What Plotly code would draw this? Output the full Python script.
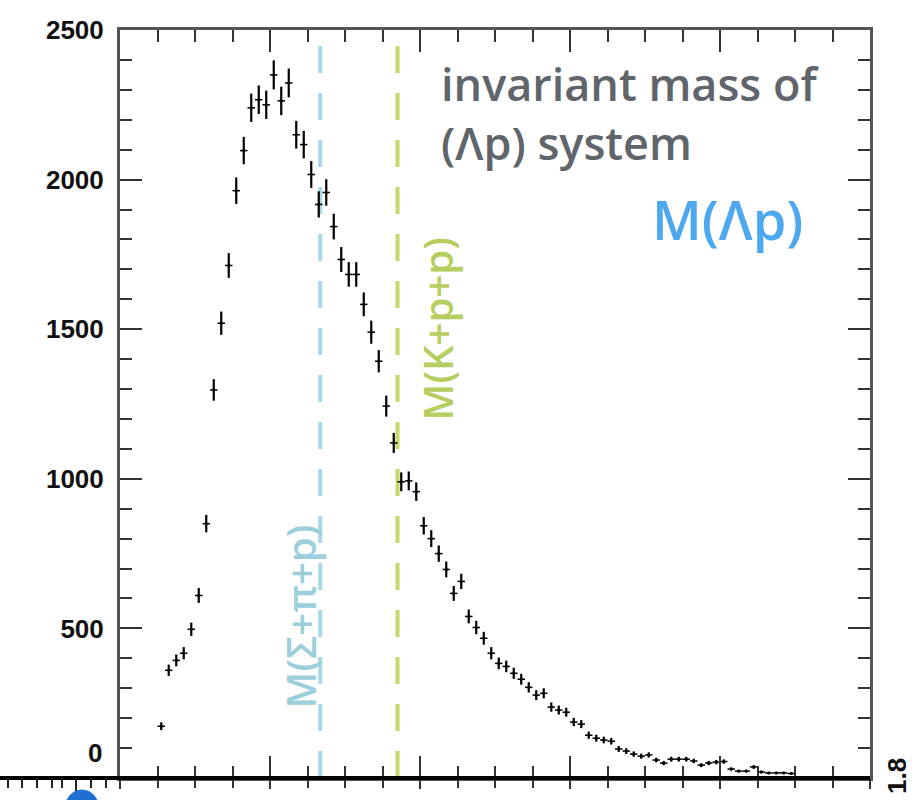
import plotly.graph_objects as go

# ---- data ----
mass_bins = [2.055, 2.065, 2.075, 2.085, 2.095, 2.105, 2.115, 2.125, 2.135, 2.145,
             2.155, 2.165, 2.175, 2.185, 2.195, 2.205, 2.215, 2.225, 2.235, 2.245,
             2.255, 2.265, 2.275, 2.285, 2.295, 2.305, 2.315, 2.325, 2.335, 2.345,
             2.355, 2.365, 2.375, 2.385, 2.395, 2.405, 2.415, 2.425, 2.435, 2.445,
             2.455, 2.465, 2.475, 2.485, 2.495, 2.505, 2.515, 2.525, 2.535, 2.545,
             2.555, 2.565, 2.575, 2.585, 2.595, 2.605, 2.615, 2.625, 2.635, 2.645,
             2.655, 2.665, 2.675, 2.685, 2.695, 2.705, 2.715, 2.725, 2.735, 2.745,
             2.755, 2.765, 2.775, 2.785, 2.795, 2.805, 2.815, 2.825, 2.835, 2.845,
             2.855, 2.865, 2.875, 2.885, 2.895]
counts = [173, 360, 393, 417, 497, 610, 850, 1297, 1520, 1713,
          1963, 2097, 2240, 2267, 2250, 2350, 2263, 2323, 2150, 2117,
          2017, 1917, 1957, 1843, 1733, 1683, 1683, 1583, 1490, 1393,
          1243, 1120, 990, 993, 957, 843, 800, 750, 697, 617,
          657, 540, 503, 467, 417, 383, 373, 350, 330, 303,
          277, 283, 237, 227, 220, 187, 180, 143, 133, 127,
          123, 97, 90, 80, 73, 77, 60, 50, 63, 63,
          63, 57, 43, 50, 53, 55, 30, 23, 23, 37,
          20, 17, 17, 17, 15]
bin_half_width = 0.005

threshold_sigma_pi_p = 2.267   # M(Sigma+pi+p)
threshold_k_p_p = 2.370        # M(K+p+p)
threshold_line_top = 2450

y_tick_vals = [500, 1000, 1500, 2000, 2500]
y_tick_text = ["500", "1000", "1500", "2000", "2500"]

BLUE_LINE = "#a6d8e6"
BLUE_TEXT = "#9ccfda"
GREEN_LINE = "#c6d86c"
GREEN_TEXT = "#b6cd5f"
GRAY_TEXT = "#60656c"
TITLE_BLUE = "#4ea8ef"

fig = go.Figure()

# threshold lines
fig.add_trace(go.Scatter(x=[threshold_sigma_pi_p, threshold_sigma_pi_p], y=[0, threshold_line_top],
                         mode="lines", line=dict(color=BLUE_LINE, width=4, dash="27px,20px"),
                         hoverinfo="skip"))
fig.add_trace(go.Scatter(x=[threshold_k_p_p, threshold_k_p_p], y=[0, threshold_line_top],
                         mode="lines", line=dict(color=GREEN_LINE, width=4, dash="27px,20px"),
                         hoverinfo="skip"))

# histogram points with errors
fig.add_trace(go.Scatter(
    x=mass_bins, y=counts, mode="markers",
    marker=dict(color="black", size=3),
    error_y=dict(type="sqrt", color="black", thickness=2.2, width=0),
    error_x=dict(type="constant", value=bin_half_width, color="black", thickness=1.5, width=0),
))

# dummy trace for overlay axis (outside ticks at bottom)
fig.add_trace(go.Scatter(x=[2.0], y=[0], xaxis="x2", mode="markers",
                         marker=dict(size=1, opacity=0), hoverinfo="skip"))

tick_col = "#333333"
fig.update_layout(
    width=916, height=800,
    margin=dict(l=120, r=46, t=30, b=20),
    plot_bgcolor="white", paper_bgcolor="white",
    showlegend=False,
    xaxis=dict(range=[2.0, 3.0], showgrid=False, zeroline=False,
               showticklabels=False, ticks="inside", tick0=2.0, dtick=0.2,
               ticklen=22, tickwidth=2, tickcolor=tick_col,
               minor=dict(dtick=0.05, ticks="inside", ticklen=12, tickwidth=2, tickcolor=tick_col, showgrid=False),
               showline=True, linecolor="#555555", linewidth=3, mirror="ticks"),
    xaxis2=dict(range=[2.0, 3.0], overlaying="x", anchor="y", side="bottom",
                showgrid=False, zeroline=False, showline=False, showticklabels=False,
                ticks="outside", tick0=2.0, dtick=0.2, ticklen=10, tickwidth=2, tickcolor=tick_col,
                minor=dict(dtick=0.05, ticks="outside", ticklen=9, tickwidth=2, tickcolor=tick_col, showgrid=False)),
    yaxis=dict(range=[0, 2500], showgrid=False, zeroline=False,
               tickvals=y_tick_vals, ticktext=y_tick_text,
               ticks="inside", ticklen=22, tickwidth=2, tickcolor=tick_col,
               minor=dict(dtick=100, ticks="inside", ticklen=12, tickwidth=2, tickcolor=tick_col, showgrid=False),
               showline=True, linecolor="#555555", linewidth=3, mirror="ticks",
               ticklabelstandoff=8,
               tickfont=dict(family="Liberation Sans", size=26, color="#111111", weight="bold")),
)

# thick black bottom axis line extending to the left edge
fig.add_shape(type="line", xref="paper", yref="paper", x0=-0.16, x1=1.0, y0=0, y1=0,
              line=dict(color="black", width=4))
# neighbouring panel's ticks at bottom-left
for px, ln in [(8, 10), (22, 10), (37, 10), (52, 10), (62, 10), (76, 20), (91, 10), (106, 10)]:
    fig.add_shape(type="line", xref="paper", yref="paper",
                  x0=(px - 120) / 750, x1=(px - 120) / 750,
                  y0=0, y1=-ln / 750, line=dict(color="#222222", width=2))
fig.add_shape(type="circle", xref="paper", yref="paper",
              x0=(66 - 120) / 750, x1=(98 - 120) / 750, y0=-12 / 750, y1=-44 / 750,
              fillcolor="#1d6fd0", line=dict(color="#1d6fd0", width=1))

ann_font = "Open Sans"
fig.add_annotation(x=-16 / 750, xref="paper", y=83, yref="y", text="0", showarrow=False,
                   xanchor="right", yanchor="middle",
                   font=dict(family="Liberation Sans", size=26, color="#111111", weight="bold"))
fig.add_annotation(x=1.036, xref="paper", y=2 / 750, yref="paper", text="1.8", showarrow=False,
                   textangle=-90, xanchor="center", yanchor="middle",
                   font=dict(family="Liberation Sans", size=26, color="#111111", weight="bold"))

fig.add_annotation(x=2.425, y=2222, text="invariant mass of<br>(Λp) system", showarrow=False,
                   xanchor="left", yanchor="middle", align="left",
                   font=dict(family=ann_font, size=45, color=GRAY_TEXT, weight=600))
fig.add_annotation(x=2.81, y=1870, text="M(Λp)", showarrow=False,
                   xanchor="center", yanchor="middle",
                   font=dict(family=ann_font, size=54, color=TITLE_BLUE, weight=600))
fig.add_annotation(x=2.24, y=540, text="M(Σ+π+p)", showarrow=False, textangle=-90,
                   xanchor="center", yanchor="middle",
                   font=dict(family=ann_font, size=40, color=BLUE_TEXT, weight=600))
fig.add_annotation(x=2.423, y=1500, text="M(K+p+p)", showarrow=False, textangle=-90,
                   xanchor="center", yanchor="middle",
                   font=dict(family=ann_font, size=40, color=GREEN_TEXT, weight=600))

fig.write_html("out.html", config={"displayModeBar": False},
               post_script="document.body.style.margin='0px';document.body.style.padding='0px';"
                           "document.body.style.overflow='hidden';")
